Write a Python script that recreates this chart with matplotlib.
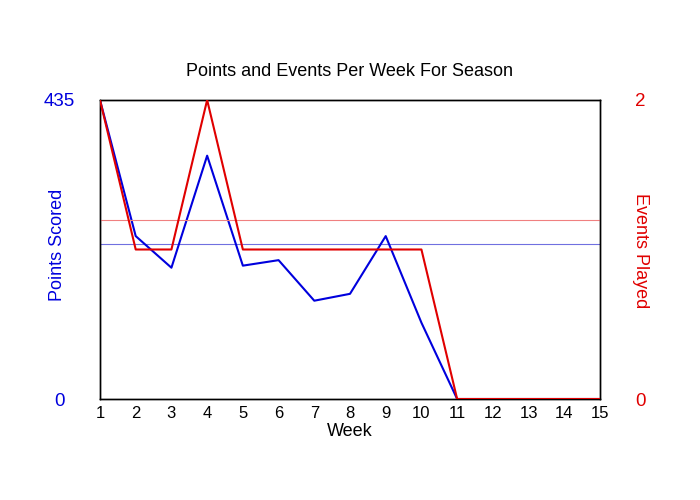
import matplotlib
matplotlib.use("Agg")
import matplotlib.pyplot as plt

weeks = list(range(1, 16))
points = [435, 237, 191, 354, 194, 202, 143, 153, 237, 111, 0, 0, 0, 0, 0]
events = [2, 1, 1, 2, 1, 1, 1, 1, 1, 1, 0, 0, 0, 0, 0]
active_weeks = 10
avg_points = sum(points[:active_weeks]) / active_weeks
avg_events = sum(events[:active_weeks]) / active_weeks

plt.rcParams['font.family'] = ['Liberation Sans', 'DejaVu Sans']

fig = plt.figure(figsize=(7, 5), dpi=100)
ax = fig.add_axes([100/700, 1-399/500, 500/700, 299/500])
ax2 = ax.twinx()

ax.plot(weeks, points, color='#0000dd', lw=1.5, zorder=3)
ax.axhline(avg_points, color='#7070e0', lw=0.8, zorder=2)
ax2.plot(weeks, events, color='#e00000', lw=1.5, zorder=3)
ax2.axhline(avg_events, color='#f08080', lw=0.8, zorder=2)

ax.set_xlim(1, 15)
ax.set_ylim(0, 435)
ax2.set_ylim(0, 2)
ax.set_xticks(weeks)
ax.set_yticks([0, 435])
ax2.set_yticks([0, 2])
ax.tick_params(axis='x', length=0, labelsize=12, pad=5)
ax.tick_params(axis='y', length=0, labelsize=13.5, labelcolor='#0000dd', pad=29)
ax2.tick_params(axis='y', length=0, labelsize=13.5, labelcolor='#e00000', pad=29)
for lab in ax.get_yticklabels() + ax2.get_yticklabels():
    lab.set_ha('center')

ax.text(0.5, (399-432)/299, 'Week', transform=ax.transAxes, fontsize=13,
        ha='center', va='center')
ax.text((58-100)/500, (399-245)/299, 'Points Scored', transform=ax.transAxes,
        fontsize=13, color='#0000dd', rotation=90, ha='center', va='center')
ax.text((640-100)/500, (399-251)/299, 'Events Played', transform=ax.transAxes,
        fontsize=13, color='#e00000', rotation=270, ha='center', va='center')
ax.text(0.5, (399-71)/299, 'Points and Events Per Week For Season',
        transform=ax.transAxes, fontsize=13, ha='center', va='center')

for a in (ax, ax2):
    for s in a.spines.values():
        s.set_linewidth(1.0)
        s.set_color('black')

fig.savefig('out.png', dpi=100)
